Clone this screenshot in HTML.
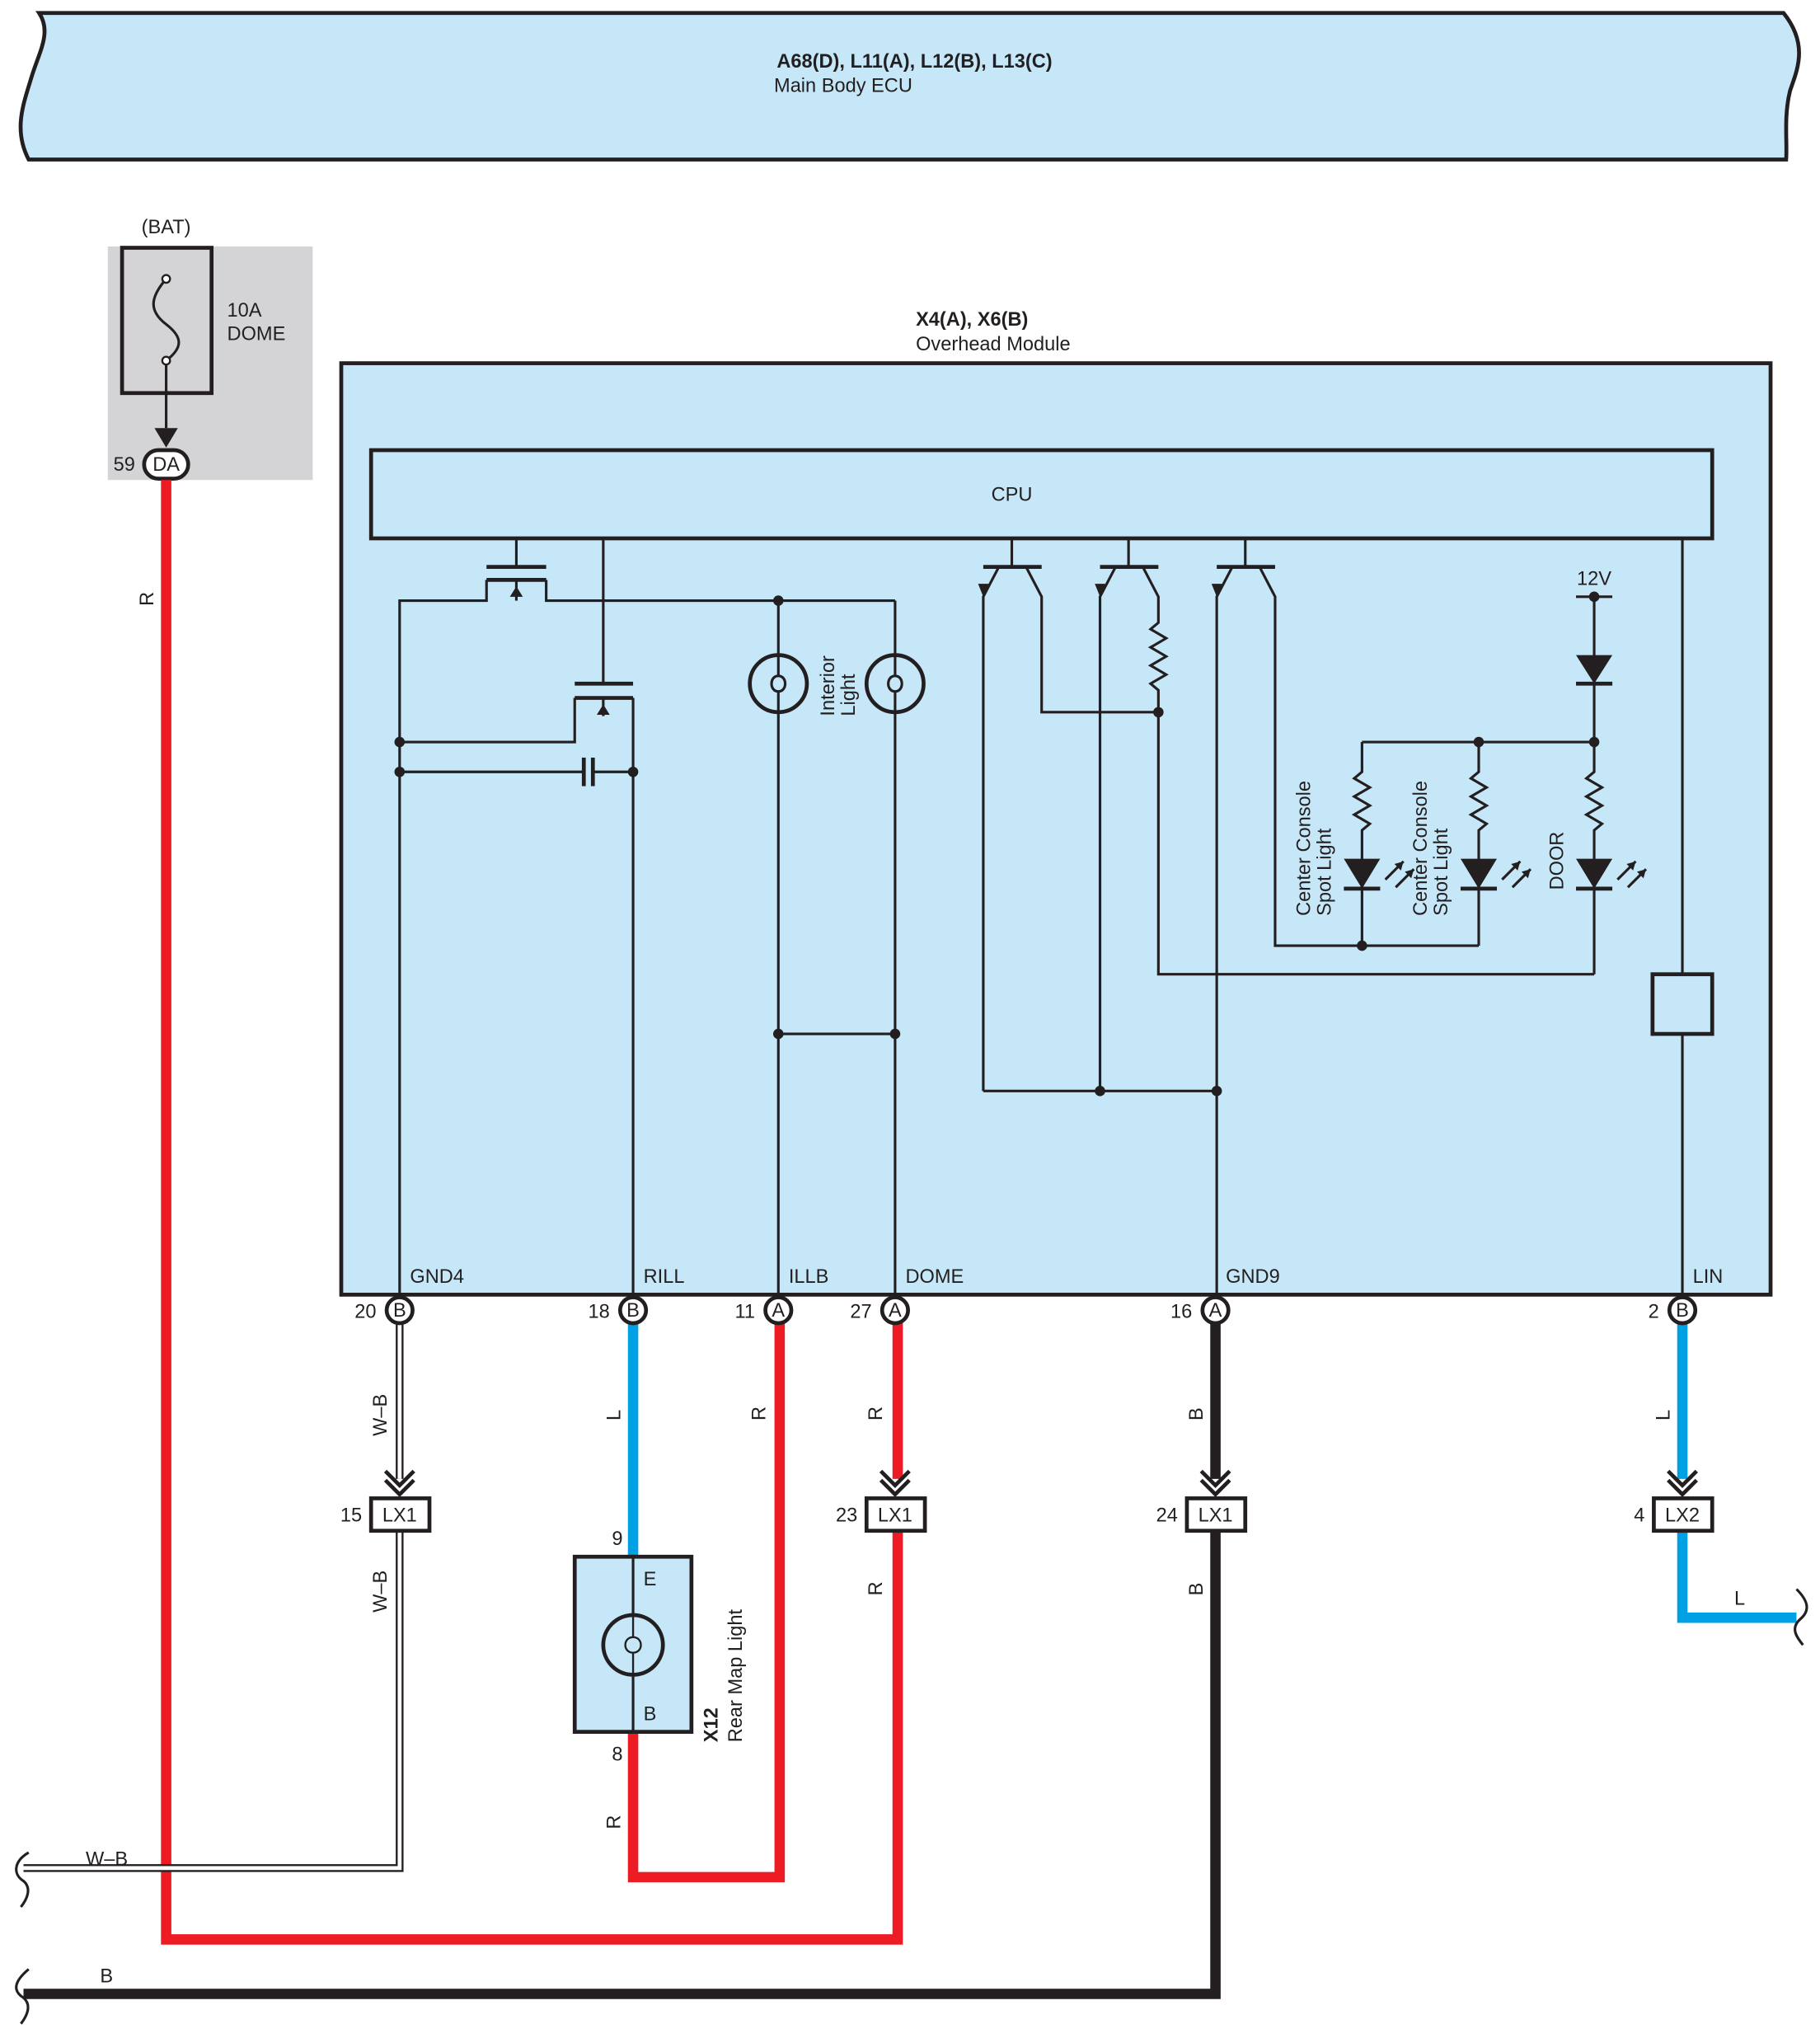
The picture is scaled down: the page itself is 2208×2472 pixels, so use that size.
<!DOCTYPE html>
<html><head><meta charset="utf-8"><style>
html,body{margin:0;padding:0;background:#fff}
svg{display:block}
text{font-family:"Liberation Sans",sans-serif;font-size:15px;fill:#231f20}
.b{font-weight:bold}
</style></head><body>
<svg width="2208" height="2472" viewBox="0 0 1403 1571" xmlns="http://www.w3.org/2000/svg">
<defs>
<g id="chev"><path d="M-11,-16 L0,-5 L11,-16 M-11,-9 L0,2 L11,-9" fill="none" stroke="#231f20" stroke-width="3"/></g>
</defs>
<!-- ECU banner -->
<path d="M30,10 L1375,10 C1395,35 1385,55 1380,70 C1375,90 1378,110 1377,123 L22,123 C10,100 18,80 24,60 C30,40 40,25 30,10 Z" fill="#c6e7f8" stroke="#231f20" stroke-width="3"/>
<text x="705" y="52" class="b" text-anchor="middle" font-size="15">A68(D), L11(A), L12(B), L13(C)</text>
<text x="650" y="71" text-anchor="middle">Main Body ECU</text>

<!-- BAT fuse -->
<rect x="83" y="190" width="158" height="180" fill="#d4d4d6"/>
<text x="128" y="180" text-anchor="middle">(BAT)</text>
<rect x="94" y="191" width="69" height="112" fill="none" stroke="#231f20" stroke-width="3"/>
<path d="M128,215 C115,230 115,240 128,250 C141,260 141,268 128,278 L128,330" fill="none" stroke="#231f20" stroke-width="2"/>
<circle cx="128" cy="215" r="3" fill="#fff" stroke="#231f20" stroke-width="1.5"/>
<circle cx="128" cy="278" r="3" fill="#fff" stroke="#231f20" stroke-width="1.5"/>
<text x="175" y="244">10A</text><text x="175" y="262">DOME</text>
<path d="M119,330 L128,345 L137,330 Z" fill="#231f20"/>
<rect x="111" y="347" width="34" height="22" rx="11" fill="#fff" stroke="#231f20" stroke-width="3"/>
<text x="128" y="363" text-anchor="middle">DA</text>
<text x="104" y="363" text-anchor="end">59</text>

<!-- wires below -->
<polyline points="128,370 128,1495 692,1495 692,1180" fill="none" stroke="#ed1c24" stroke-width="8"/>
<line x1="692" y1="1020" x2="692" y2="1140" stroke="#ed1c24" stroke-width="8"/>
<polyline points="488,1335 488,1447 601,1447 601,1020" fill="none" stroke="#ed1c24" stroke-width="8"/>
<line x1="488" y1="1020" x2="488" y2="1200" stroke="#00a0e4" stroke-width="8"/>
<line x1="1297" y1="1020" x2="1297" y2="1140" stroke="#00a0e4" stroke-width="8"/>
<polyline points="1297,1180 1297,1247 1385,1247" fill="none" stroke="#00a0e4" stroke-width="8"/>
<line x1="937" y1="1020" x2="937" y2="1140" stroke="#231f20" stroke-width="8"/>
<polyline points="937,1180 937,1537 18,1537" fill="none" stroke="#231f20" stroke-width="8"/>
<!-- W-B double line -->
<polyline points="308,1020 308,1140" fill="none" stroke="#231f20" stroke-width="6"/>
<polyline points="308,1020 308,1140" fill="none" stroke="#fff" stroke-width="3"/>
<polyline points="308,1180 308,1440 18,1440" fill="none" stroke="#231f20" stroke-width="6"/>
<polyline points="308,1180 308,1440 18,1440" fill="none" stroke="#fff" stroke-width="3"/>
<path d="M22,1428 C10,1435 10,1445 18,1450 C25,1456 20,1465 16,1470" fill="none" stroke="#231f20" stroke-width="2"/>
<path d="M22,1518 C10,1528 10,1535 18,1540 C25,1546 20,1555 16,1560" fill="none" stroke="#231f20" stroke-width="2"/>
<path d="M1385,1225 C1395,1235 1395,1242 1388,1248 C1380,1255 1385,1262 1390,1268" fill="none" stroke="#231f20" stroke-width="2"/>

<!-- chevrons and LX connectors -->
<use href="#chev" x="308" y="1150"/><use href="#chev" x="690" y="1150"/><use href="#chev" x="937" y="1150"/><use href="#chev" x="1297" y="1150"/>
<g fill="#fff" stroke="#231f20" stroke-width="3">
<rect x="286" y="1155" width="45" height="25"/><rect x="668" y="1155" width="45" height="25"/>
<rect x="915" y="1155" width="45" height="25"/><rect x="1275" y="1155" width="45" height="25"/>
</g>
<text x="308" y="1173" text-anchor="middle">LX1</text><text x="690" y="1173" text-anchor="middle">LX1</text>
<text x="937" y="1173" text-anchor="middle">LX1</text><text x="1297" y="1173" text-anchor="middle">LX2</text>
<text x="279" y="1173" text-anchor="end">15</text><text x="661" y="1173" text-anchor="end">23</text>
<text x="908" y="1173" text-anchor="end">24</text><text x="1268" y="1173" text-anchor="end">4</text>

<!-- X12 -->
<rect x="443" y="1200" width="90" height="135" fill="#c6e7f8" stroke="#231f20" stroke-width="3"/>
<line x1="488" y1="1200" x2="488" y2="1245" stroke="#231f20" stroke-width="2"/>
<line x1="488" y1="1291" x2="488" y2="1335" stroke="#231f20" stroke-width="2"/>
<circle cx="488" cy="1268" r="23" fill="none" stroke="#231f20" stroke-width="3"/>
<path d="M488,1245 L488,1262 C480,1262 480,1274 488,1274 C496,1274 496,1262 488,1262 M488,1274 L488,1291" fill="none" stroke="#231f20" stroke-width="1.5"/>
<text x="496" y="1222">E</text><text x="496" y="1326">B</text>
<text x="480" y="1191" text-anchor="end">9</text><text x="480" y="1357" text-anchor="end">8</text>
<text transform="translate(553,1343) rotate(-90)" class="b">X12</text>
<text transform="translate(572,1343) rotate(-90)">Rear Map Light</text>

<!-- wire labels -->
<g>
<text transform="translate(118,467) rotate(-90)">R</text>
<text transform="translate(298,1107) rotate(-90)">W–B</text>
<text transform="translate(298,1243) rotate(-90)">W–B</text>
<text transform="translate(478,1095) rotate(-90)">L</text>
<text transform="translate(590,1095) rotate(-90)">R</text>
<text transform="translate(680,1095) rotate(-90)">R</text>
<text transform="translate(680,1230) rotate(-90)">R</text>
<text transform="translate(927,1095) rotate(-90)">B</text>
<text transform="translate(927,1230) rotate(-90)">B</text>
<text transform="translate(1287,1095) rotate(-90)">L</text>
<text transform="translate(478,1410) rotate(-90)">R</text>
<text x="1337" y="1237">L</text>
<text x="66" y="1438">W–B</text>
<text x="77" y="1528">B</text>
</g>

<!-- Overhead module -->
<text x="706" y="251" class="b">X4(A), X6(B)</text>
<text x="706" y="270">Overhead Module</text>
<rect x="263" y="280" width="1102" height="718" fill="#c6e7f8" stroke="#231f20" stroke-width="3"/>
<rect x="286" y="347" width="1034" height="68" fill="#c6e7f8" stroke="#231f20" stroke-width="3"/>
<text x="780" y="386" text-anchor="middle">CPU</text>

<g fill="none" stroke="#231f20" stroke-width="2">
<!-- MOSFET1 -->
<line x1="398" y1="415" x2="398" y2="437"/>
<line x1="375" y1="437" x2="421" y2="437" stroke-width="3"/>
<line x1="375" y1="447" x2="421" y2="447" stroke-width="3"/>
<polyline points="308,1000 308,463 375,463 375,447"/>
<polyline points="421,447 421,463 690,463"/>
<line x1="398" y1="447" x2="398" y2="463"/>
<!-- MOSFET2 -->
<line x1="465" y1="415" x2="465" y2="527"/>
<line x1="443" y1="527" x2="488" y2="527" stroke-width="3"/>
<line x1="443" y1="538" x2="488" y2="538" stroke-width="3"/>
<polyline points="443,538 443,572 308,572"/>
<polyline points="488,538 488,1000"/>
<line x1="465" y1="538" x2="465" y2="552"/>
<!-- capacitor -->
<polyline points="308,595 450,595"/><polyline points="457,595 488,595"/>
<line x1="450" y1="584" x2="450" y2="606" stroke-width="3"/><line x1="457" y1="584" x2="457" y2="606" stroke-width="3"/>
<!-- bulbs -->
<line x1="600" y1="463" x2="600" y2="505"/><line x1="600" y1="549" x2="600" y2="1000"/>
<line x1="690" y1="463" x2="690" y2="505"/><line x1="690" y1="549" x2="690" y2="1000"/>
<circle cx="600" cy="527" r="22" stroke-width="3"/><circle cx="690" cy="527" r="22" stroke-width="3"/>
<path d="M600,505 L600,521 C593,521 593,533 600,533 C607,533 607,521 600,521 M600,533 L600,549"/>
<path d="M690,505 L690,521 C683,521 683,533 690,533 C697,533 697,521 690,521 M690,533 L690,549"/>
<line x1="600" y1="797" x2="690" y2="797"/>
<!-- transistors -->
<line x1="780" y1="415" x2="780" y2="437"/><line x1="758" y1="437" x2="803" y2="437" stroke-width="3"/>
<polyline points="770,437 758,460 758,841"/><polyline points="791,437 803,460 803,549 893,549"/>
<line x1="870" y1="415" x2="870" y2="437"/><line x1="848" y1="437" x2="893" y2="437" stroke-width="3"/>
<polyline points="860,437 848,460 848,841"/><polyline points="881,437 893,460 893,480 887,485 899,492 887,499 899,506 887,513 899,520 887,527 893,532 893,751 1229,751"/>
<line x1="960" y1="415" x2="960" y2="437"/><line x1="938" y1="437" x2="983" y2="437" stroke-width="3"/>
<polyline points="950,437 938,460 938,1000"/><polyline points="971,437 983,460 983,729 1140,729"/>
<line x1="758" y1="841" x2="938" y2="841"/>
<!-- 12V network -->
<line x1="1215" y1="460" x2="1243" y2="460"/>
<polyline points="1229,460 1229,595 1223,600 1235,607 1223,614 1235,621 1223,628 1235,635 1229,640 1229,751"/>
<line x1="1050" y1="572" x2="1229" y2="572"/>
<polyline points="1050,572 1050,595 1044,600 1056,607 1044,614 1056,621 1044,628 1056,635 1050,640 1050,729"/>
<polyline points="1140,572 1140,595 1134,600 1146,607 1134,614 1146,621 1134,628 1146,635 1140,640 1140,729"/>
<line x1="1036" y1="685" x2="1064" y2="685" stroke-width="3"/>
<line x1="1126" y1="685" x2="1154" y2="685" stroke-width="3"/>
<line x1="1215" y1="685" x2="1243" y2="685" stroke-width="3"/>
<line x1="1215" y1="527" x2="1243" y2="527" stroke-width="3"/>
<!-- LIN -->
<line x1="1297" y1="415" x2="1297" y2="751"/>
<rect x="1274" y="751" width="46" height="46" stroke-width="3"/>
<line x1="1297" y1="797" x2="1297" y2="1000"/>
<!-- led rays -->
<path d="M1068,678 L1082,664 M1076,684 L1090,670"/>
<path d="M1158,678 L1172,664 M1166,684 L1180,670"/>
<path d="M1247,678 L1261,664 M1255,684 L1269,670"/>
</g>
<g fill="#231f20">
<path d="M1036,662 L1064,662 L1050,685 Z"/><path d="M1126,662 L1154,662 L1140,685 Z"/><path d="M1215,662 L1243,662 L1229,685 Z"/>
<path d="M1215,505 L1243,505 L1229,527 Z"/>
<path d="M1082,664 l-7,2 l5,5 Z M1090,670 l-7,2 l5,5 Z M1172,664 l-7,2 l5,5 Z M1180,670 l-7,2 l5,5 Z M1261,664 l-7,2 l5,5 Z M1269,670 l-7,2 l5,5 Z"/>
<path d="M758,460 l-4,-10 l8,0 Z M848,460 l-4,-10 l8,0 Z M938,460 l-4,-10 l8,0 Z"/>
<path d="M398,452 l-5,8 l10,0 Z M465,543 l-5,8 l10,0 Z"/>
<circle cx="308" cy="572" r="4"/><circle cx="308" cy="595" r="4"/><circle cx="488" cy="595" r="4"/>
<circle cx="600" cy="463" r="4"/><circle cx="600" cy="797" r="4"/><circle cx="690" cy="797" r="4"/>
<circle cx="893" cy="549" r="4"/><circle cx="848" cy="841" r="4"/><circle cx="938" cy="841" r="4"/>
<circle cx="1229" cy="460" r="4"/><circle cx="1229" cy="572" r="4"/><circle cx="1140" cy="572" r="4"/><circle cx="1050" cy="729" r="4"/>
</g>
<text x="1229" y="451" text-anchor="middle">12V</text>
<text transform="translate(643,552) rotate(-90)">Interior</text>
<text transform="translate(659,552) rotate(-90)">Light</text>
<text transform="translate(1010,706) rotate(-90)">Center Console</text>
<text transform="translate(1026,706) rotate(-90)">Spot Light</text>
<text transform="translate(1100,706) rotate(-90)">Center Console</text>
<text transform="translate(1116,706) rotate(-90)">Spot Light</text>
<text transform="translate(1205,686) rotate(-90)">DOOR</text>

<text x="316" y="989">GND4</text><text x="496" y="989">RILL</text><text x="608" y="989">ILLB</text>
<text x="698" y="989">DOME</text><text x="945" y="989">GND9</text><text x="1305" y="989">LIN</text>

<!-- pins -->
<g fill="#fff" stroke="#231f20" stroke-width="3">
<circle cx="308" cy="1010" r="10"/><circle cx="488" cy="1010" r="10"/><circle cx="600" cy="1010" r="10"/>
<circle cx="690" cy="1010" r="10"/><circle cx="937" cy="1010" r="10"/><circle cx="1297" cy="1010" r="10"/>
</g>
<g font-size="13" text-anchor="middle">
<text x="308" y="1015" font-size="13">B</text><text x="488" y="1015" font-size="13">B</text><text x="600" y="1015" font-size="13">A</text>
<text x="690" y="1015" font-size="13">A</text><text x="937" y="1015" font-size="13">A</text><text x="1297" y="1015" font-size="13">B</text>
</g>
<text x="290" y="1016" text-anchor="end">20</text><text x="470" y="1016" text-anchor="end">18</text>
<text x="582" y="1016" text-anchor="end">11</text><text x="672" y="1016" text-anchor="end">27</text>
<text x="919" y="1016" text-anchor="end">16</text><text x="1279" y="1016" text-anchor="end">2</text>
</svg>
</body></html>
